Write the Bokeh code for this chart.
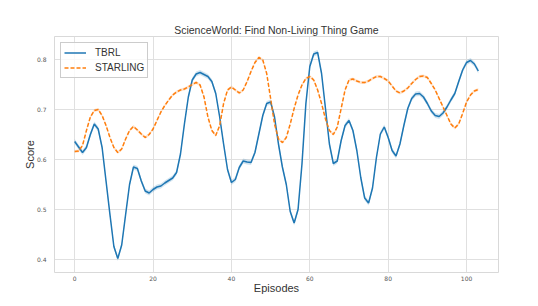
from bokeh.plotting import figure
from bokeh.models import ColumnDataSource, Range1d, FixedTicker, Legend, LegendItem, Band
from bokeh.embed import file_html
from bokeh.resources import INLINE

episodes = list(range(104))

tbrl = [0.636, 0.625, 0.614, 0.624, 0.650, 0.671, 0.661, 0.624, 0.557, 0.490,
        0.426, 0.402, 0.429, 0.490, 0.550, 0.585, 0.582, 0.557, 0.537, 0.533,
        0.540, 0.545, 0.547, 0.553, 0.558, 0.563, 0.574, 0.611, 0.671, 0.725,
        0.759, 0.771, 0.774, 0.770, 0.766, 0.756, 0.732, 0.685, 0.631, 0.580,
        0.554, 0.560, 0.584, 0.597, 0.595, 0.594, 0.614, 0.651, 0.688, 0.712,
        0.715, 0.685, 0.631, 0.585, 0.550, 0.496, 0.473, 0.500, 0.591, 0.712,
        0.786, 0.811, 0.814, 0.772, 0.702, 0.631, 0.592, 0.597, 0.638, 0.668,
        0.678, 0.658, 0.618, 0.564, 0.523, 0.513, 0.543, 0.604, 0.651, 0.665,
        0.644, 0.618, 0.607, 0.631, 0.668, 0.702, 0.722, 0.731, 0.732, 0.725,
        0.712, 0.697, 0.688, 0.686, 0.693, 0.705, 0.719, 0.732, 0.756, 0.779,
        0.794, 0.798, 0.791, 0.777]

starling = [0.616, 0.617, 0.628, 0.658, 0.685, 0.698, 0.700, 0.688, 0.668, 0.644,
            0.624, 0.614, 0.621, 0.641, 0.658, 0.666, 0.659, 0.651, 0.644, 0.650,
            0.661, 0.678, 0.695, 0.708, 0.719, 0.729, 0.735, 0.739, 0.741, 0.745,
            0.750, 0.754, 0.749, 0.725, 0.685, 0.658, 0.648, 0.668, 0.712, 0.739,
            0.745, 0.739, 0.733, 0.739, 0.756, 0.776, 0.794, 0.804, 0.799, 0.772,
            0.722, 0.671, 0.641, 0.634, 0.644, 0.671, 0.702, 0.729, 0.749, 0.762,
            0.766, 0.759, 0.739, 0.712, 0.681, 0.658, 0.650, 0.665, 0.702, 0.739,
            0.759, 0.761, 0.757, 0.754, 0.754, 0.757, 0.762, 0.766, 0.766, 0.762,
            0.757, 0.747, 0.737, 0.733, 0.737, 0.743, 0.752, 0.760, 0.766, 0.767,
            0.764, 0.752, 0.739, 0.722, 0.705, 0.688, 0.671, 0.663, 0.671, 0.692,
            0.715, 0.729, 0.737, 0.740]

tbrl_ci = 0.005
starling_ci = 0.003

x_ticks = [0, 20, 40, 60, 80, 100]
y_ticks = [0.4, 0.5, 0.6, 0.7, 0.8]

BLUE = "#1f77b4"
ORANGE = "#ff7f0e"

src = ColumnDataSource(dict(
    x=episodes,
    tbrl=tbrl,
    tbrl_lo=[v - tbrl_ci for v in tbrl],
    tbrl_hi=[v + tbrl_ci for v in tbrl],
    starling=starling,
    st_lo=[v - starling_ci for v in starling],
    st_hi=[v + starling_ci for v in starling],
))

p = figure(width=538, height=306, output_backend="svg", toolbar_location=None,
           x_range=Range1d(-5.15, 108.15), y_range=Range1d(0.374, 0.846),
           min_border_left=54, min_border_right=40, min_border_top=36, min_border_bottom=34)
p.frame_width = 444
p.frame_height = 236

p.title.text = "ScienceWorld: Find Non-Living Thing Game"
p.title.align = "center"
p.title.text_font = "Liberation Sans"
p.title.text_font_size = "10.5px"
p.title.text_font_style = "normal"
p.title.text_color = "#333333"
p.title.offset = 0
p.title.standoff = 2

p.background_fill_color = "white"
p.outline_line_color = "#d9d9d9"
p.outline_line_width = 1

for ax in (p.xaxis[0], p.yaxis[0]):
    ax.axis_line_color = None
    ax.major_tick_line_color = None
    ax.minor_tick_line_color = None
    ax.major_label_text_font = "DejaVu Sans"
    ax.major_label_text_font_size = "6px"
    ax.major_label_text_color = "#555555"
    ax.axis_label_text_font = "Liberation Sans"
    ax.axis_label_text_font_size = "11px"
    ax.axis_label_text_font_style = "normal"
    ax.axis_label_text_color = "#333333"

p.xaxis.ticker = FixedTicker(ticks=x_ticks)
p.yaxis.ticker = FixedTicker(ticks=y_ticks)
p.xaxis.axis_label = "Episodes"
p.yaxis.axis_label = "Score"
p.xaxis.major_label_standoff = -3
p.yaxis.major_label_standoff = 2
p.xaxis.axis_label_standoff = -2
p.yaxis.axis_label_standoff = -2

p.xgrid.grid_line_color = "#e0e0e0"
p.ygrid.grid_line_color = "#e0e0e0"
p.xgrid.grid_line_width = 1
p.ygrid.grid_line_width = 1

b1 = Band(base="x", lower="tbrl_lo", upper="tbrl_hi", source=src,
          fill_color=BLUE, fill_alpha=0.2, line_color=None)
b2 = Band(base="x", lower="st_lo", upper="st_hi", source=src,
          fill_color=ORANGE, fill_alpha=0.2, line_color=None)
p.add_layout(b1)
p.add_layout(b2)

l1 = p.line("x", "tbrl", source=src, line_color=BLUE, line_width=1.5)
l2 = p.line("x", "starling", source=src, line_color=ORANGE, line_width=1.5,
            line_dash="4 2")

legend = Legend(items=[LegendItem(label="TBRL", renderers=[l1]),
                       LegendItem(label="STARLING", renderers=[l2])],
                location="top_left")
legend.label_text_font = "Liberation Sans"
legend.label_text_font_size = "10px"
legend.label_text_color = "#333333"
legend.glyph_width = 22
legend.glyph_height = 13
legend.label_height = 13
legend.label_standoff = 9
legend.spacing = 2
legend.padding = 3
legend.margin = 6
legend.border_line_color = "#cccccc"
legend.border_line_alpha = 1
legend.background_fill_alpha = 0.8
p.add_layout(legend)

open("out.html", "w").write(file_html(p, INLINE))
